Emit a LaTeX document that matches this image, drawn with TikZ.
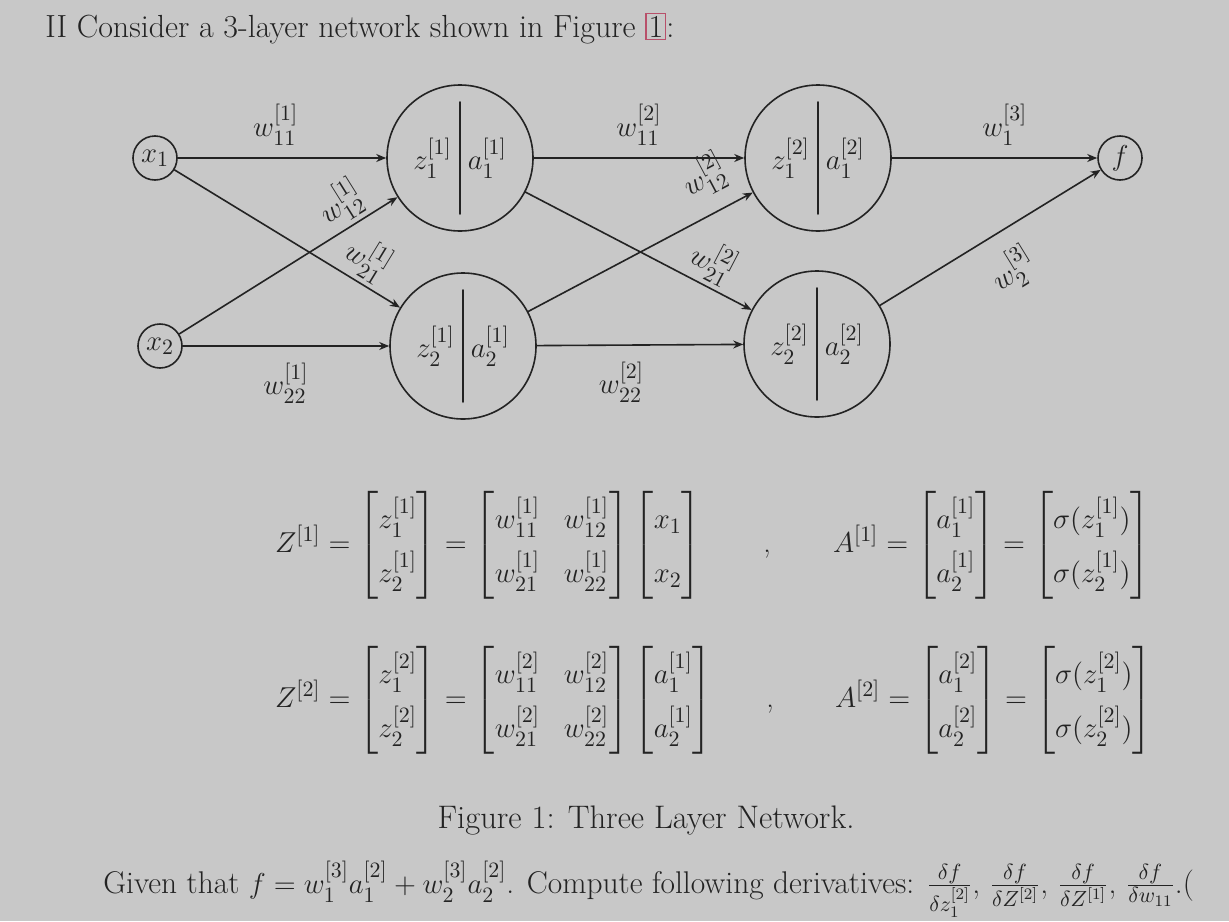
\documentclass[tikz,border=0pt]{standalone}
\usepackage{amsmath,amssymb}
\usepackage{tikz}
\usetikzlibrary{arrows.meta,positioning}
\definecolor{screen}{HTML}{C8C8C8}
\definecolor{ink}{HTML}{232323}
\definecolor{linkbox}{HTML}{B8506A}
\renewcommand{\arraystretch}{1.5}
\setlength{\arraycolsep}{6pt}
\tikzset{
  every picture/.style={line join=round, line cap=round, >={Stealth[length=5pt,width=4pt]}},
  unit/.style={circle, draw=ink, line width=0.8pt, minimum size=22pt, inner sep=0.5pt},
  neuron/.style={circle, draw=ink, line width=0.8pt, minimum size=73pt, inner sep=0pt},
  wire/.style={->, draw=ink, line width=0.8pt},
  wlabel/.style={text=ink, inner sep=2pt},
  prose/.style={inner sep=0pt, font=\fontsize{16}{19.5}\selectfont},
}
\newcommand{\zacell}[2]{$z_{#1}^{[#2]}\hspace{8pt}a_{#1}^{[#2]}$}

\begin{document}
\begin{tikzpicture}[x=0.5pt,y=-0.5pt,font=\fontsize{15}{18}\selectfont,text=ink]
\fill[screen] (0,0) rectangle (1229,921);
\useasboundingbox (0,0) rectangle (1229,921);

\node[prose, anchor=base west] (intro) at (45,37) {II Consider a 3-layer network shown in Figure {\fboxsep=1pt\fboxrule=0.6pt\fcolorbox{linkbox}{screen}{1}}:};

% network
\node[unit] (x1) at (155,158) {$x_1$};
\node[unit] (x2) at (160,346) {$x_2$};
\node[neuron] (h11) at (460,158) {\zacell{1}{1}};
\node[neuron] (h12) at (463,346) {\zacell{2}{1}};
\node[neuron] (h21) at (818,158) {\zacell{1}{2}};
\node[neuron] (h22) at (817,344) {\zacell{2}{2}};
\node[unit] (f) at (1120,158) {$f$};

\foreach \n in {h11,h12,h21,h22}
  \draw[ink, line width=1.2pt] ([yshift=-9pt]\n.north) -- ([yshift=9pt]\n.south);

\draw[wire] (x1) -- (h11) node[wlabel, pos=0.47, above=4pt] {$w_{11}^{[1]}$};
\draw[wire] (x1) -- (h12) node[wlabel, pos=0.8, sloped, above] {$w_{21}^{[1]}$};
\draw[wire] (x2) -- (h11) node[wlabel, pos=0.8, sloped, above] {$w_{12}^{[1]}$};
\draw[wire] (x2) -- (h12) node[wlabel, pos=0.5, below=6pt] {$w_{22}^{[1]}$};

\draw[wire] (h11) -- (h21) node[wlabel, pos=0.5, above=4pt] {$w_{11}^{[2]}$};
\draw[wire] (h11) -- (h22) node[wlabel, pos=0.78, sloped, above] {$w_{21}^{[2]}$};
\draw[wire] (h12) -- (h21) node[wlabel, pos=0.86, sloped, above=6pt] {$w_{12}^{[2]}$};
\draw[wire] (h12) -- (h22) node[wlabel, pos=0.41, below=6pt] {$w_{22}^{[2]}$};

\draw[wire] (h21) -- (f) node[wlabel, pos=0.55, above=4pt] {$w_{1}^{[3]}$};
\draw[wire] (h22) -- (f) node[wlabel, pos=0.51, sloped, below=7pt] {$w_{2}^{[3]}$};

% matrices
\node[anchor=west] (zone) at (268,545) {$Z^{[1]} = \begin{bmatrix} z_1^{[1]} \\ z_2^{[1]} \end{bmatrix} = \begin{bmatrix} w_{11}^{[1]} & w_{12}^{[1]} \\ w_{21}^{[1]} & w_{22}^{[1]} \end{bmatrix} \begin{bmatrix} x_1 \\ x_2 \end{bmatrix}$};
\node[anchor=base] (cone) at (767,552) {,};
\node[anchor=west] (aone) at (826,545) {$A^{[1]} = \begin{bmatrix} a_1^{[1]} \\ a_2^{[1]} \end{bmatrix} = \begin{bmatrix} \sigma(z_1^{[1]}) \\ \sigma(z_2^{[1]}) \end{bmatrix}$};

\node[anchor=west] (ztwo) at (268,700) {$Z^{[2]} = \begin{bmatrix} z_1^{[2]} \\ z_2^{[2]} \end{bmatrix} = \begin{bmatrix} w_{11}^{[2]} & w_{12}^{[2]} \\ w_{21}^{[2]} & w_{22}^{[2]} \end{bmatrix} \begin{bmatrix} a_1^{[1]} \\ a_2^{[1]} \end{bmatrix}$};
\node[anchor=base] (ctwo) at (770,707) {,};
\node[anchor=west] (atwo) at (828,700) {$A^{[2]} = \begin{bmatrix} a_1^{[2]} \\ a_2^{[2]} \end{bmatrix} = \begin{bmatrix} \sigma(z_1^{[2]}) \\ \sigma(z_2^{[2]}) \end{bmatrix}$};

\node[prose, font=\fontsize{16.3}{19.5}\selectfont, anchor=base] (cap) at (646,828) {Figure 1: Three Layer Network.};

\node[prose, font=\fontsize{15.7}{19}\selectfont, anchor=base west] (task) at (103,893) {Given that $f = w_1^{[3]}a_1^{[2]} + w_2^{[3]}a_2^{[2]}$. Compute following derivatives: $\frac{\delta f}{\delta z_1^{[2]}}$, $\frac{\delta f}{\delta Z^{[2]}}$, $\frac{\delta f}{\delta Z^{[1]}}$, $\frac{\delta f}{\delta w_{11}}$.(};
\end{tikzpicture}
\end{document}
